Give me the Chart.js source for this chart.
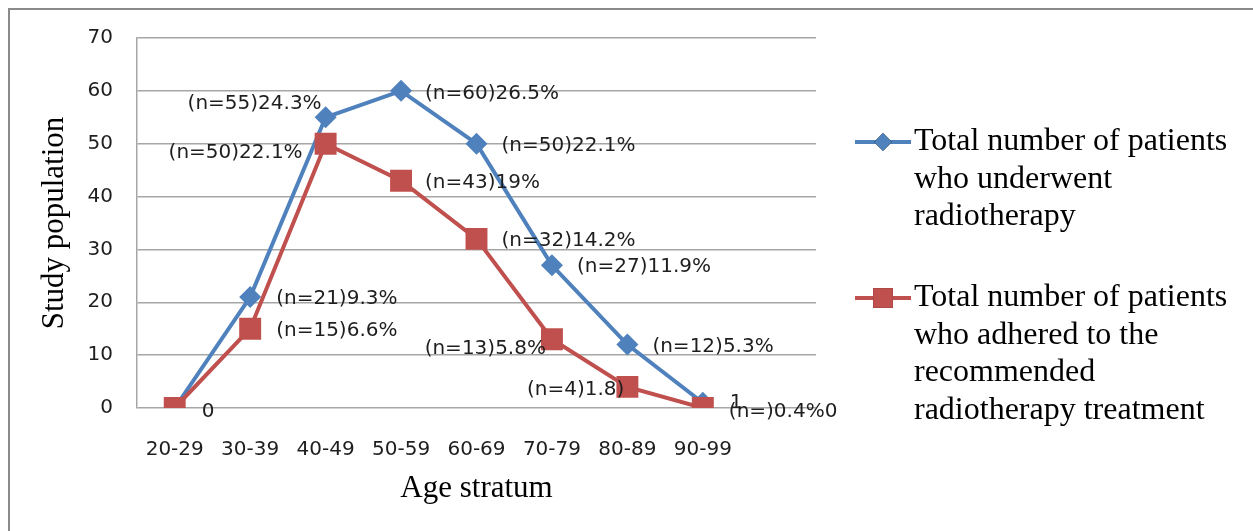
<!DOCTYPE html>
<html>
<head>
<meta charset="utf-8">
<script src="https://cdn.jsdelivr.net/npm/chart.js@4.4.1/dist/chart.umd.min.js"></script>
<style>
  html, body { margin: 0; padding: 0; background: #ffffff; }
  canvas { display: block; }
</style>
</head>
<body>
<canvas id="chart" width="1253" height="531"></canvas>
<script>
// Age strata on the x axis
const ageStrata = ['20-29', '30-39', '40-49', '50-59', '60-69', '70-79', '80-89', '90-99'];

// Patients per stratum
const underwent = [0, 21, 55, 60, 50, 27, 12, 1];
const adhered   = [0, 15, 50, 43, 32, 13, 4, 0];

// Point labels as printed next to each marker
const underwentLabels = ['', '(n=21)9.3%', '(n=55)24.3%', '(n=60)26.5%', '(n=50)22.1%', '(n=27)11.9%', '(n=12)5.3%', '1'];
const adheredLabels   = ['0', '(n=15)6.6%', '(n=50)22.1%', '(n=43)19%', '(n=32)14.2%', '(n=13)5.8%', '(n=4)1.8)', '(n=)0.4%0'];

// Y axis ticks
const yTicks = [0, 10, 20, 30, 40, 50, 60, 70];

// Series names, one entry per legend line
const underwentName = ['Total number of patients', 'who underwent', 'radiotherapy'];
const adheredName   = ['Total number of patients', 'who adhered to the', 'recommended', 'radiotherapy treatment'];

// Label placement relative to each marker: [dx, dy, align]
const underwentLabelPlace = [
  [0, 0, 'left'], [26, 2, 'left'], [-4, -13, 'right'], [24, 3, 'left'],
  [25, 2, 'left'], [25, 2, 'left'], [25, 2, 'left'], [27, 0, 'left']
];
const adheredLabelPlace = [
  [27, 4, 'left'], [26, 2, 'left'], [-23, 9, 'right'], [24, 2, 'left'],
  [25, 2, 'left'], [-6, 10, 'right'], [-3, 3, 'right'], [26, 4, 'left']
];

const BLUE = '#4F81BD';
const RED = '#C0504D';
const GRID = '#a6a6a6';
const TEXT = '#1e1e1e';
const LABEL_FONT = '20px "DejaVu Sans"';
const SERIF = '"Liberation Serif", "Times New Roman", serif';

Chart.defaults.font.family = '"DejaVu Sans", sans-serif';
Chart.defaults.color = TEXT;

// White page with the frame along the top and left edges
const framePlugin = {
  id: 'frame',
  beforeDraw(chart) {
    const ctx = chart.ctx;
    ctx.save();
    ctx.fillStyle = '#ffffff';
    ctx.fillRect(0, 0, chart.width, chart.height);
    ctx.strokeStyle = '#8a8a8a';
    ctx.lineWidth = 2;
    ctx.beginPath();
    ctx.moveTo(9, chart.height);
    ctx.lineTo(9, 9);
    ctx.lineTo(chart.width, 9);
    ctx.stroke();
    ctx.restore();
  }
};

// Text labels beside the markers
const pointLabelPlugin = {
  id: 'pointLabels',
  afterDatasetsDraw(chart) {
    const ctx = chart.ctx;
    ctx.save();
    ctx.font = LABEL_FONT;
    ctx.fillStyle = TEXT;
    ctx.textBaseline = 'middle';
    chart.data.datasets.forEach((ds, di) => {
      const meta = chart.getDatasetMeta(di);
      meta.data.forEach((pt, i) => {
        const text = ds.pointLabels[i];
        if (!text) return;
        const [dx, dy, align] = ds.labelPlace[i];
        ctx.textAlign = align;
        ctx.fillText(text, pt.x + dx, pt.y + dy);
      });
    });
    ctx.restore();
  }
};

// Legend on the right with wrapped series names
const sideLegendPlugin = {
  id: 'sideLegend',
  afterDraw(chart) {
    const ctx = chart.ctx;
    const area = chart.chartArea;
    const lineH = 37.5;
    const startY = [142, 298];
    ctx.save();
    chart.data.datasets.forEach((ds, di) => {
      const y = startY[di];
      const x0 = area.right + 39;
      const x1 = x0 + 56;
      ctx.strokeStyle = ds.borderColor;
      ctx.lineWidth = 4;
      ctx.beginPath();
      ctx.moveTo(x0, y);
      ctx.lineTo(x1, y);
      ctx.stroke();
      Chart.helpers.drawPoint(ctx, {
        pointStyle: ds.pointStyle,
        radius: ds.pointStyle === 'rect' ? 14 : 9,
        borderWidth: 0
      }, (x0 + x1) / 2, y);
      ctx.fillStyle = ds.borderColor;
      ctx.fill();
      ctx.fillStyle = '#000000';
      ctx.font = '32px ' + SERIF;
      ctx.textAlign = 'left';
      ctx.textBaseline = 'middle';
      ds.nameLines.forEach((line, li) => {
        ctx.fillText(line, x1 + 3, y + li * lineH);
      });
    });
    ctx.restore();
  }
};

new Chart(document.getElementById('chart'), {
  type: 'line',
  data: {
    // trailing empty slot keeps the plot area running past the last stratum
    labels: ageStrata.concat(['']),
    datasets: [
      {
        label: underwentName.join(' '),
        nameLines: underwentName,
        data: underwent,
        pointLabels: underwentLabels,
        labelPlace: underwentLabelPlace,
        borderColor: BLUE,
        backgroundColor: BLUE,
        borderWidth: 4,
        pointStyle: 'rectRot',
        pointRadius: 11,
        pointBorderWidth: 0,
        pointBackgroundColor: BLUE,
        tension: 0,
        order: 1
      },
      {
        label: adheredName.join(' '),
        nameLines: adheredName,
        data: adhered,
        pointLabels: adheredLabels,
        labelPlace: adheredLabelPlace,
        borderColor: RED,
        backgroundColor: RED,
        borderWidth: 4,
        pointStyle: 'rect',
        pointRadius: 15.5,
        pointBorderWidth: 0,
        pointBackgroundColor: RED,
        tension: 0,
        order: 0
      }
    ]
  },
  options: {
    responsive: false,
    animation: false,
    events: [],
    layout: { padding: { top: 38, right: 437, left: 0, bottom: 0 } },
    plugins: {
      legend: { display: false },
      tooltip: { enabled: false }
    },
    scales: {
      x: {
        offset: true,
        grid: { display: false },
        border: { display: false },
        ticks: {
          font: { size: 20 },
          padding: 22,
          maxRotation: 0,
          autoSkip: false
        },
        title: {
          display: true,
          text: 'Age stratum',
          color: '#000000',
          font: { family: SERIF, size: 31 },
          padding: { top: 0, bottom: 24 }
        },
        afterFit(scale) { scale.height = 123; }
      },
      y: {
        min: yTicks[0],
        max: yTicks[yTicks.length - 1],
        afterBuildTicks(scale) { scale.ticks = yTicks.map(v => ({ value: v })); },
        grid: { color: GRID, lineWidth: 1.5, drawTicks: false },
        border: { display: true, color: GRID, width: 1.5 },
        ticks: { font: { size: 20 }, padding: 24 },
        title: {
          display: true,
          text: 'Study population',
          color: '#000000',
          font: { family: SERIF, size: 31 },
          padding: { top: 36, bottom: 0 }
        },
        afterFit(scale) { scale.width = 137; }
      }
    }
  },
  plugins: [framePlugin, pointLabelPlugin, sideLegendPlugin]
});
</script>
</body>
</html>
